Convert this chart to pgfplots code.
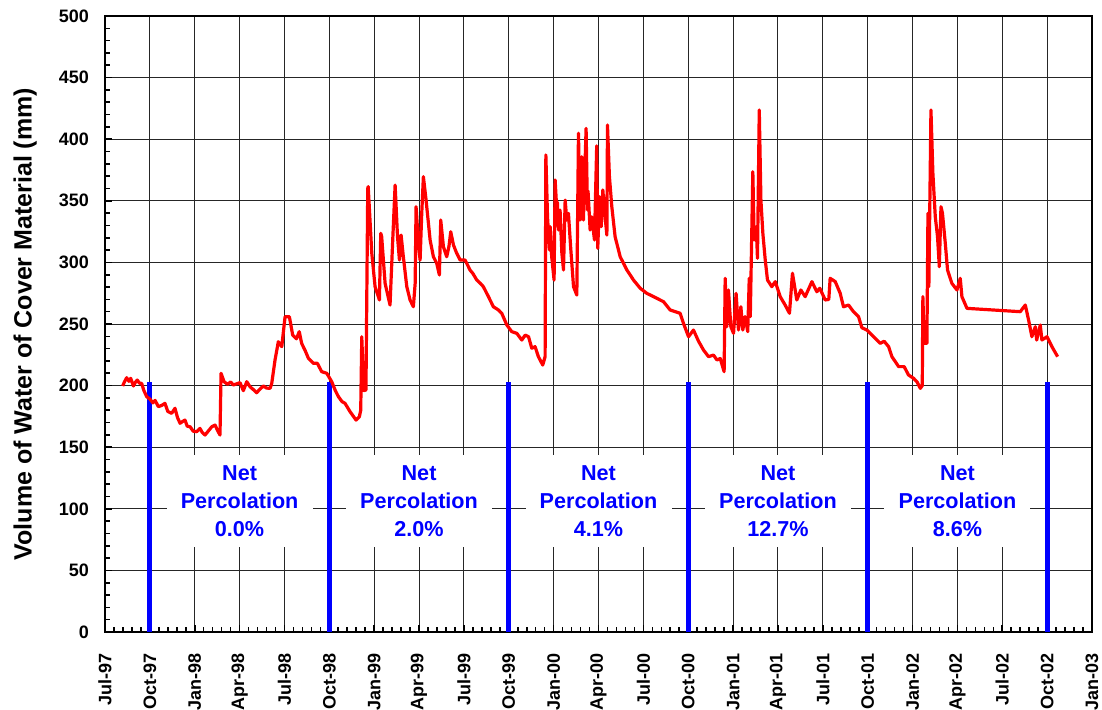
\documentclass[border=0pt]{standalone}
\usepackage{fontspec}
\setmainfont{Liberation Sans}
\usepackage{pgfplots}
\pgfplotsset{compat=1.18}
\definecolor{wred}{RGB}{255,0,0}
\definecolor{pblue}{RGB}{0,0,255}

\begin{document}
\begin{tikzpicture}
\begin{axis}[
  scale only axis, width=493.5pt, height=308pt,
  xmin=0, xmax=66, ymin=0, ymax=500,
  xtick={0,3,...,66},
  xticklabels={Jul-97,Oct-97,Jan-98,Apr-98,Jul-98,Oct-98,Jan-99,Apr-99,Jul-99,Oct-99,Jan-00,Apr-00,Jul-00,Oct-00,Jan-01,Apr-01,Jul-01,Oct-01,Jan-02,Apr-02,Jul-02,Oct-02,Jan-03},
  ytick={0,50,...,500},
  minor x tick num=4, minor y tick num=4,
  xtick pos=bottom, ytick pos=left, tick align=inside,
  major tick length=3.5pt, minor tick length=2.5pt,
  every tick/.style={black, line width=0.8pt},
  grid=major, major grid style={black!85, line width=0.5pt},
  axis line style={line width=1.4pt},
  /pgf/number format/assume math mode=true,
  xticklabel style={yshift=-7pt, rotate=90, anchor=east, font=\bfseries\fontsize{9}{10}\selectfont},
  yticklabel style={xshift=-4.5pt, font=\bfseries\fontsize{9}{10}\selectfont},
  ylabel={Volume of Water of Cover Material (mm)},
  ylabel style={at={(axis description cs:-0.081,0.5)}, anchor=center, font=\bfseries\fontsize{12.5}{14}\selectfont},
]
% net percolation markers at 1 October of each year
\addplot[pblue, line width=2.5pt, ycomb, no marks] coordinates {(3,203) (15,203) (27,203) (39,203) (51,203) (63,203)};

\addplot[wred, line width=1.6pt, no marks, line join=round] coordinates {
(1.18,199.7)(1.30,203)(1.45,206.4)(1.60,203.5)(1.72,205.9)(1.90,199.7)(2.05,203)(2.16,204.5)(2.30,202)(2.45,201.8)(2.60,196)(2.79,191)(3.01,189)
(3.20,186)(3.35,188)(3.57,182.9)(3.80,184)(4.01,185.6)(4.20,179)(4.46,177.5)(4.68,181.6)(4.85,174)(5.02,169.4)(5.20,171)(5.35,172)(5.50,167)
(5.69,166.6)(5.90,163)(6.13,162.6)(6.35,165.3)(6.50,162)(6.69,159.9)(6.90,163)(7.14,166.6)(7.36,168)(7.55,163)(7.69,159.9)(7.76,210)(7.96,203.2)
(8.20,201)(8.40,203)(8.58,200.5)(9.03,202.4)(9.25,195.9)(9.48,203.2)(9.70,199)(9.90,197)(10.14,194.2)(10.35,197)(10.59,199.7)(10.80,198)(11.04,197.8)
(11.15,201.8)(11.37,220.8)(11.59,235.6)(11.82,231.6)(12.04,255.9)(12.33,255.9)(12.55,241)(12.80,238)(12.99,243.8)(13.15,234.3)(13.40,228)
(13.60,222.2)(13.93,218.1)(14.2,218.1)(14.49,211.3)(14.83,210)(15.16,203.2)(15.40,196)(15.61,191)(15.85,187)(16.05,185.6)(16.39,178.8)
(16.79,172)(17.01,174.8)(17.10,180)(17.17,239.7)(17.30,196)(17.45,196.4)(17.57,360.1)(17.60,361.5)(17.84,307.4)(18.06,280.3)(18.35,269.5)
(18.44,323.6)(18.50,321)(18.73,283)(19.06,265.4)(19.24,318.2)(19.40,362.8)(19.56,320.9)(19.69,301.9)(19.80,322.2)(19.95,304.6)(20.18,280.3)
(20.40,269.5)(20.62,264)(20.74,283)(20.80,345.2)(20.96,315.5)(21.07,301.9)(21.18,339.8)(21.29,369.6)(21.47,350.6)(21.74,318.2)(21.96,304.6)
(22.18,299.3)(22.36,289.8)(22.45,334.4)(22.63,312.7)(22.85,304.6)(23.00,313)(23.12,324.9)(23.30,314.1)(23.52,307.4)(23.75,301.9)(24.08,301.9)
(24.41,293.8)(24.60,291)(24.86,285.7)(25.10,283)(25.30,280.3)(25.64,272.2)(25.97,264)(26.31,261.4)(26.53,258.7)(26.87,249.2)(27.20,243.8)
(27.54,242.4)(27.87,237)(28.10,241)(28.32,239.7)(28.54,230.3)(28.76,231.6)(28.98,223.5)(29.27,216.7)(29.43,223.5)(29.48,387.2)(29.59,337.1)
(29.72,310.1)(29.77,329)(29.87,304.6)(30.03,285.7)(30.10,366.9)(30.21,342.5)(30.25,349)(30.32,326.3)(30.43,342.5)(30.55,307.4)(30.66,293.8)
(30.77,350.6)(30.88,334.4)(30.99,339.8)(31.15,310.1)(31.33,280.3)(31.55,273.5)(31.66,404.8)(31.77,334.4)(31.88,385.8)(31.99,334.4)(32.17,408.8)
(32.26,342.5)(32.30,358)(32.44,326.3)(32.55,337)(32.73,318.2)(32.88,394.6)(32.95,311.4)(33.07,353.3)(33.18,329)(33.29,358.8)(33.40,342)
(33.56,322.2)(33.60,411.5)(33.73,369.6)(33.89,345.2)(34.11,320.9)(34.45,304.6)(34.90,293.8)(35.34,285.7)(35.79,279)(36.23,274.9)(36.68,272.2)
(37.35,268.1)(37.79,261.4)(38.46,258.7)(38.68,250.6)(39.02,239.7)(39.35,245.1)(39.69,236)(40.02,228.9)(40.36,223.5)(40.69,224.8)(40.92,220.8)
(41.14,222)(41.40,211.3)(41.47,287.1)(41.58,247.8)(41.69,277.6)(41.85,247.8)(42.03,242.4)(42.20,274.9)(42.36,245.1)(42.52,264)(42.65,245.1)
(42.80,256)(42.98,243.8)(43.08,287.1)(43.15,256)(43.32,373.6)(43.41,318.2)(43.55,329)(43.63,303.3)(43.75,423.7)(43.86,350.6)(43.99,323.6)
(44.15,301.9)(44.30,285.7)(44.59,280.3)(44.82,284.4)(45.15,272.2)(45.48,265.4)(45.77,258.7)(45.97,291.2)(46.26,269.5)(46.53,277.6)(46.82,272.2)
(47.27,284.4)(47.60,276.2)(47.80,279)(48.16,269.5)(48.40,270)(48.49,287.1)(48.83,284.4)(49.16,275)(49.38,264)(49.72,265.4)(50.05,260)
(50.39,255.9)(50.61,247)(50.95,245.1)(51.39,239.7)(51.84,234.3)(52.10,236)(52.40,231.6)(52.62,223.5)(53.07,215.4)(53.44,215.4)(53.73,208.6)
(54.07,205.9)(54.30,203)(54.52,197.8)(54.65,200)(54.69,272.2)(54.78,234.3)(54.96,234.3)(55.03,339.8)(55.09,280.3)(55.23,423.7)(55.36,372.3)
(55.52,337.1)(55.67,320.9)(55.79,296.5)(55.90,345.2)(56.00,340)(56.19,315.5)(56.34,293.8)(56.63,283)(56.97,277.6)(57.19,287.1)(57.30,272.2)
(57.64,262.7)(61.20,260)(61.54,265.4)(61.76,253.2)(61.98,239.7)(62.21,247.8)(62.30,237)(62.54,249.2)(62.65,237)(62.99,239.7)(63.32,231.6)(63.70,223.5)
};

\tikzset{perc/.style={fill=white, text=pblue, align=center, inner sep=0pt,
  minimum width=73pt, minimum height=46pt, font=\bfseries\fontsize{10.8}{14}\selectfont}}
\node[perc] at (axis cs:9,106) {Net\\Percolation\\0.0\%};
\node[perc] at (axis cs:21,106) {Net\\Percolation\\2.0\%};
\node[perc] at (axis cs:33,106) {Net\\Percolation\\4.1\%};
\node[perc] at (axis cs:45,106) {Net\\Percolation\\12.7\%};
\node[perc] at (axis cs:57,106) {Net\\Percolation\\8.6\%};
\end{axis}
\pgfresetboundingbox
\path ([shift={(-52.5pt,-38.5pt)}]current axis.south west) rectangle ([shift={(498.5pt,316pt)}]current axis.south west);
\end{tikzpicture}
\end{document}
